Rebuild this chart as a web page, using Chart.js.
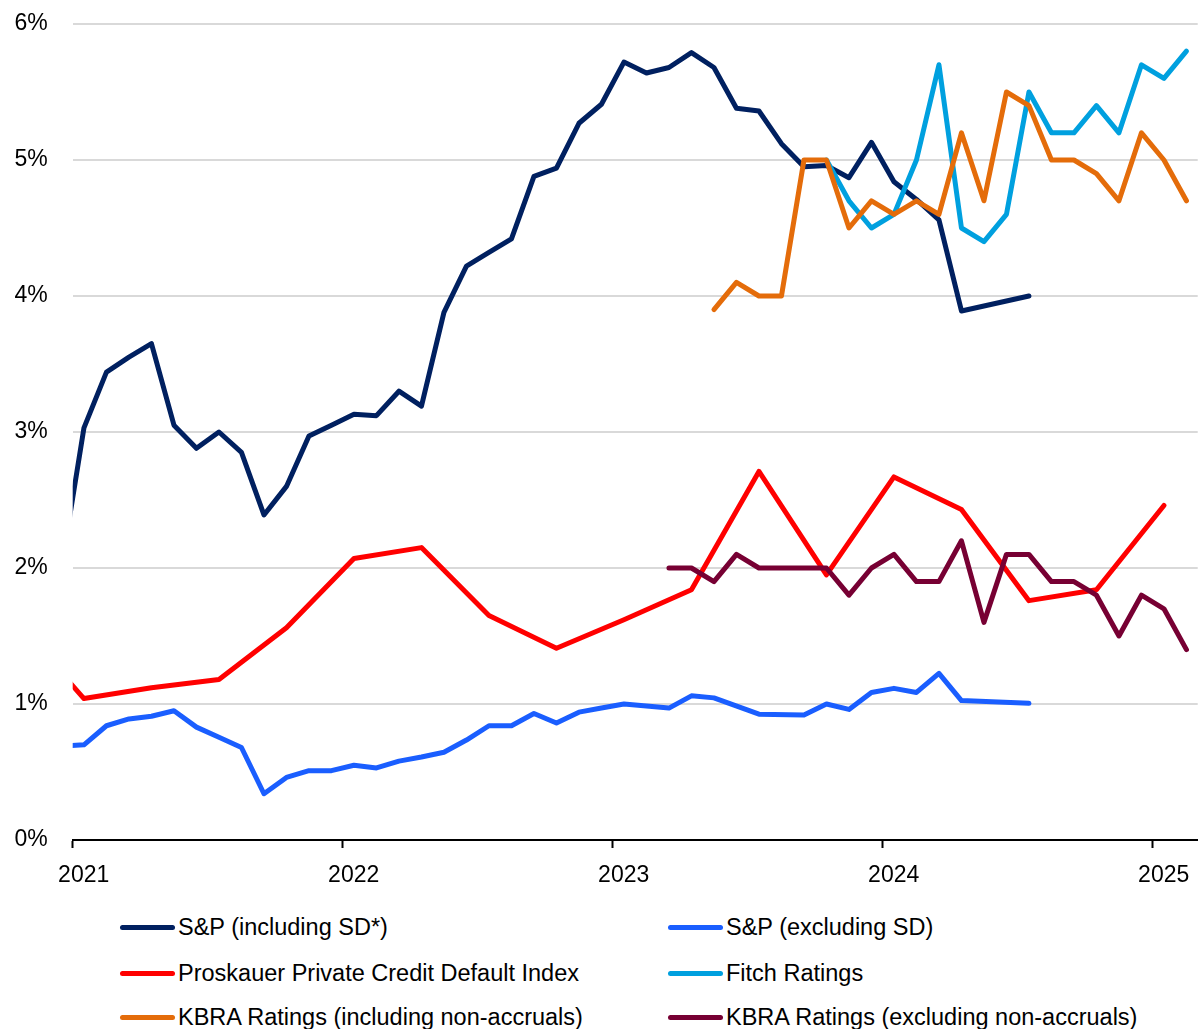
<!DOCTYPE html>
<html>
<head>
<meta charset="utf-8">
<script src="https://cdn.jsdelivr.net/npm/chart.js@4/dist/chart.umd.min.js"></script>
<style>
  html, body { margin: 0; padding: 0; background: #fff; }
  #wrap { position: relative; width: 1201px; height: 1029px; overflow: hidden; }
  #chart { position: absolute; left: 0; top: 0; }
  .legend-item {
    position: absolute; display: flex; align-items: center; height: 30px;
    font-family: "Liberation Sans", Arial, sans-serif; font-size: 23.5px; color: #000;
    white-space: nowrap;
  }
  .legend-item .swatch { width: 55px; height: 5px; border-radius: 3px; margin-right: 3px; }
</style>
</head>
<body>
<div id="wrap">
  <canvas id="chart" width="1201" height="900"></canvas>
  <div id="legend"></div>
</div>
<script>
// months (category of each value), Oct 2020 .. Feb 2025
const months = [
  "2020-10", "2020-11", "2020-12",
  "2021-01", "2021-02", "2021-03", "2021-04", "2021-05", "2021-06", "2021-07", "2021-08", "2021-09", "2021-10", "2021-11", "2021-12",
  "2022-01", "2022-02", "2022-03", "2022-04", "2022-05", "2022-06", "2022-07", "2022-08", "2022-09", "2022-10", "2022-11", "2022-12",
  "2023-01", "2023-02", "2023-03", "2023-04", "2023-05", "2023-06", "2023-07", "2023-08", "2023-09", "2023-10", "2023-11", "2023-12",
  "2024-01", "2024-02", "2024-03", "2024-04", "2024-05", "2024-06", "2024-07", "2024-08", "2024-09", "2024-10", "2024-11", "2024-12",
  "2025-01", "2025-02",
];

// x axis tick labels
const yearLabels = ["2021", "2022", "2023", "2024", "2025"];
// y axis tick labels
const percentLabels = ["0%", "1%", "2%", "3%", "4%", "5%", "6%"];

// S&P (including SD*)
const spIncl = [
  null, null, 2.0,
  3.03, 3.44, 3.55, 3.65, 3.05, 2.88, 3.0, 2.85, 2.39, 2.6, 2.97, 3.05,
  3.13, 3.12, 3.3, 3.19, 3.88, 4.22, 4.32, 4.42, 4.88, 4.94, 5.27, 5.41,
  5.72, 5.64, 5.68, 5.79, 5.68, 5.38, 5.36, 5.12, 4.95, 4.96, 4.87, 5.13,
  4.84, 4.71, 4.56, 3.89, null, null, 4.0, null, null, null, null, null,
  null, null,
];
// S&P (excluding SD)
const spExcl = [
  null, null, 0.69,
  0.7, 0.84, 0.89, 0.91, 0.95, 0.83, 0.755, 0.68, 0.34, 0.46, 0.51, 0.51,
  0.55, 0.53, 0.58, 0.61, 0.645, 0.735, 0.84, 0.84, 0.93, 0.86, 0.94, 0.97,
  1.0, null, 0.97, 1.06, 1.045, null, 0.925, null, 0.92, 1.0, 0.96, 1.085,
  1.115, 1.085, 1.225, 1.025, null, null, 1.005, null, null, null, null, null,
  null, null,
];
// Proskauer Private Credit Default Index (quarterly)
const proskauer = [
  1.6, null, null,
  1.04, null, null, 1.12, null, null, 1.18, null, null, 1.56, null, null,
  2.07, null, null, 2.15, null, null, 1.65, null, null, 1.41, null, null,
  1.62, null, null, 1.84, null, null, 2.71, null, null, 1.95, null, null,
  2.67, null, null, 2.43, null, null, 1.76, null, null, 1.84, null, null,
  2.46, null,
];
// Fitch Ratings
const fitch = [
  null, null, null,
  null, null, null, null, null, null, null, null, null, null, null, null,
  null, null, null, null, null, null, null, null, null, null, null, null,
  null, null, null, null, null, null, null, null, null, 5.0, 4.7, 4.5,
  4.6, 5.0, 5.7, 4.5, 4.4, 4.6, 5.5, 5.2, 5.2, 5.4, 5.2, 5.7,
  5.6, 5.8,
];
// KBRA Ratings (including non-accruals)
const kbraIncl = [
  null, null, null,
  null, null, null, null, null, null, null, null, null, null, null, null,
  null, null, null, null, null, null, null, null, null, null, null, null,
  null, null, null, null, 3.9, 4.1, 4.0, 4.0, 5.0, 5.0, 4.5, 4.7,
  4.6, 4.7, 4.6, 5.2, 4.7, 5.5, 5.4, 5.0, 5.0, 4.9, 4.7, 5.2,
  5.0, 4.7,
];
// KBRA Ratings (excluding non-accruals)
const kbraExcl = [
  null, null, null,
  null, null, null, null, null, null, null, null, null, null, null, null,
  null, null, null, null, null, null, null, null, null, null, null, null,
  null, null, 2.0, 2.0, 1.9, 2.1, 2.0, 2.0, 2.0, 2.0, 1.8, 2.0,
  2.1, 1.9, 1.9, 2.2, 1.6, 2.1, 2.1, 1.9, 1.9, 1.8, 1.5, 1.8,
  1.7, 1.4,
];

const seriesNames = [
  "S&P (including SD*)",
  "S&P (excluding SD)",
  "Proskauer Private Credit Default Index",
  "Fitch Ratings",
  "KBRA Ratings (including non-accruals)",
  "KBRA Ratings (excluding non-accruals)",
];
const seriesValues = [spIncl, spExcl, proskauer, fitch, kbraIncl, kbraExcl];
const seriesColors = ["#002060", "#1A5EFF", "#FF0000", "#00A0DF", "#E46C0A", "#770033"];

document.addEventListener("DOMContentLoaded", () => {
  //month string -> position on the x axis (middle of the month, 0 = Jan 2021)
  const monthPos = (m) => {
    const [y, mo] = m.split("-").map(Number);
    return (y - 2021) * 12 + (mo - 1) + 0.5;
  };
  //year tick -> position of Jan 1st
  const yearPos = (y) => (Number(y) - 2021) * 12;

  //datasets : skip empty months so the lines join across them
  const datasets = seriesValues.map((values, i) => ({
    label: seriesNames[i],
    data: values
      .map((v, j) => (v === null || v === undefined ? null : { x: monthPos(months[j]), y: v }))
      .filter((p) => p !== null),
    borderColor: seriesColors[i],
    backgroundColor: seriesColors[i],
    borderWidth: 5,
    borderCapStyle: "round",
    borderJoinStyle: "round",
    pointRadius: 0,
    tension: 0,
    clip: 0,
    // later series drawn on top
    order: seriesValues.length - i,
  }));

  const tickFont = { family: "'Liberation Sans', Arial, sans-serif", size: 23 };

  const chart = new Chart(document.getElementById("chart"), {
    type: "line",
    data: { datasets },
    options: {
      responsive: false,
      animation: false,
      devicePixelRatio: 1,
      layout: { padding: { top: 24, right: 3.3, bottom: 0, left: 0 } },
      plugins: { legend: { display: false }, tooltip: { enabled: false } },
      scales: {
        x: {
          type: "linear",
          min: 0,
          max: 50,
          afterBuildTicks: (scale) => {
            scale.ticks = yearLabels.map((y) => ({ value: yearPos(y) }));
          },
          afterFit: (scale) => {
            scale.height = 60;
          },
          ticks: {
            font: tickFont,
            color: "#000",
            padding: 14,
            labelOffset: 11,
            maxRotation: 0,
            autoSkip: false,
            callback: (v) => yearLabels[Math.round(v / 12)],
          },
          grid: {
            drawOnChartArea: false,
            drawTicks: true,
            tickLength: 8,
            tickWidth: 2,
            tickColor: "#000",
          },
          border: { display: true, color: "#000", width: 2 },
        },
        y: {
          min: 0,
          max: 6,
          afterFit: (scale) => {
            scale.width = 72.7;
          },
          ticks: {
            stepSize: 1,
            font: tickFont,
            color: "#000",
            padding: 0,
            callback: (v) => percentLabels[Math.round(v)],
          },
          //invisible tick marks give the gap between labels and plot
          grid: { color: "#D9D9D9", lineWidth: 2, drawTicks: true, tickLength: 25, tickColor: "rgba(0,0,0,0)" },
          border: { display: false },
        },
      },
    },
  });

  //legend, two columns
  const legend = document.getElementById("legend");
  const colX = [120, 668];
  const rowY = [927, 973, 1017];
  seriesNames.forEach((name, i) => {
    const item = document.createElement("div");
    item.className = "legend-item";
    item.style.left = colX[i % 2] + "px";
    item.style.top = rowY[Math.floor(i / 2)] - 15 + "px";
    item.innerHTML = `<span class="swatch" style="background:${seriesColors[i]}"></span><span></span>`;
    item.lastChild.textContent = name;
    legend.append(item);
  });
});
</script>
</body>
</html>
